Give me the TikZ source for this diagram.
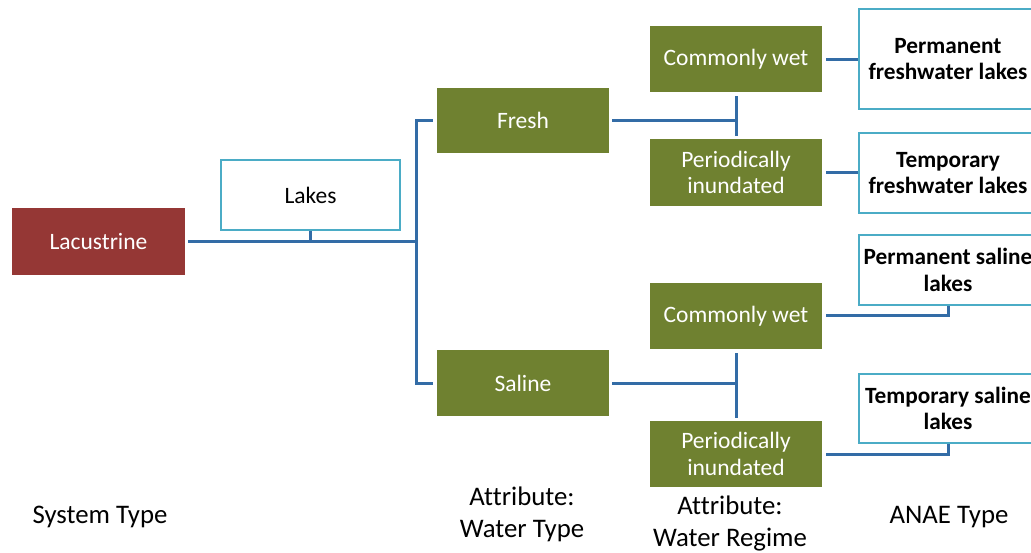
\documentclass[tikz,border=0pt]{standalone}
\usepackage{fontspec}
\setmainfont{Carlito}[Ligatures=NoCommon]
\definecolor{olive}{HTML}{6F8130}
\definecolor{lacred}{HTML}{953735}
\definecolor{tealb}{HTML}{4BACC6}
\definecolor{connblue}{HTML}{336CA6}
\tikzset{
  nodefont/.style={font=\fontsize{23.5}{26.5}\selectfont},
  greenbox/.style={nodefont, fill=olive, text=white, minimum width=172pt, minimum height=66pt, inner sep=0pt, align=center},
  redbox/.style={nodefont, fill=lacred, text=white, minimum width=173pt, minimum height=67pt, inner sep=0pt, align=center},
  whitebox/.style={nodefont, draw=tealb, line width=2.5pt, fill=white, text=black, inner sep=0pt, align=center},
  anaebox/.style={whitebox, font=\fontsize{23.3}{26.5}\selectfont\bfseries, minimum width=178pt},
  conn/.style={draw=connblue, line width=3pt},
  axislabel/.style={font=\fontsize{26.8}{32}\selectfont, align=center, text=black},
}
\begin{document}
\begin{tikzpicture}[x=1pt,y=-1pt]
\useasboundingbox (0,0) rectangle (1031,552);
\fill[white] (0,0) rectangle (1031,552);
\clip (0,0) rectangle (1031,552);
% nodes
\node[redbox] (lac) at (98.5,241.5) {Lacustrine};
\node[whitebox, minimum width=179pt, minimum height=70pt] (lakes) at (310.5,195) {Lakes};
\node[greenbox, minimum height=65pt] (fresh) at (523,120.5) {Fresh};
\node[greenbox] (saline) at (523,383) {Saline};
\node[greenbox] (cw1) at (736,59) {Commonly wet};
\node[greenbox, minimum height=67pt] (pi1) at (736,172.5) {Periodically\\inundated};
\node[greenbox] (cw2) at (736,316) {Commonly wet};
\node[greenbox] (pi2) at (736,454) {Periodically\\inundated};
\node[anaebox, minimum height=100pt] (pfl) at (948,59) {Permanent\\freshwater lakes};
\node[anaebox, minimum height=80pt] (tfl) at (948,173) {Temporary\\freshwater lakes};
\node[anaebox, minimum height=70pt] (psl) at (948,270) {Permanent saline\\lakes};
\node[anaebox, minimum height=69pt] (tsl) at (948,408.5) {Temporary saline\\lakes};
% axis labels
\node[axislabel] (l1) at (100,517) {System Type};
\node[axislabel] (l2) at (522,514) {Attribute:\\Water Type};
\node[axislabel] (l3) at (730,523) {Attribute:\\Water Regime};
\node[axislabel] (l4) at (949,517) {ANAE Type};
% connectors
\coordinate (jx) at (416,0);
\draw[conn, shorten <=3pt] (lac.east) -- (lac.east -| jx);
\draw[conn] (lakes.south) -- (lakes.south |- lac.east);
\draw[conn, shorten <=4pt, shorten >=4pt] (fresh.west) -- (fresh.west -| jx) -- (saline.west -| jx) -- (saline.west);
\draw[conn, shorten <=3pt] (fresh.east) -- (fresh.east -| cw1.south);
\draw[conn, shorten <=4pt, shorten >=3pt] (cw1.south) -- (pi1.north);
\draw[conn, shorten <=3pt] (saline.east) -- (saline.east -| cw2.south);
\draw[conn, shorten <=4pt, shorten >=3pt] (cw2.south) -- (pi2.north);
\draw[conn, shorten <=4pt] (cw1.east) -- (pfl.west |- cw1.east);
\draw[conn, shorten <=4pt] (pi1.east) -- (tfl.west |- pi1.east);
\draw[conn, shorten <=4pt] ([yshift=1pt]cw2.east) -- ([yshift=1pt]cw2.east -| psl.south) -- (psl.south);
\draw[conn, shorten <=4pt] (pi2.east) -- (pi2.east -| tsl.south) -- (tsl.south);
\end{tikzpicture}
\end{document}
